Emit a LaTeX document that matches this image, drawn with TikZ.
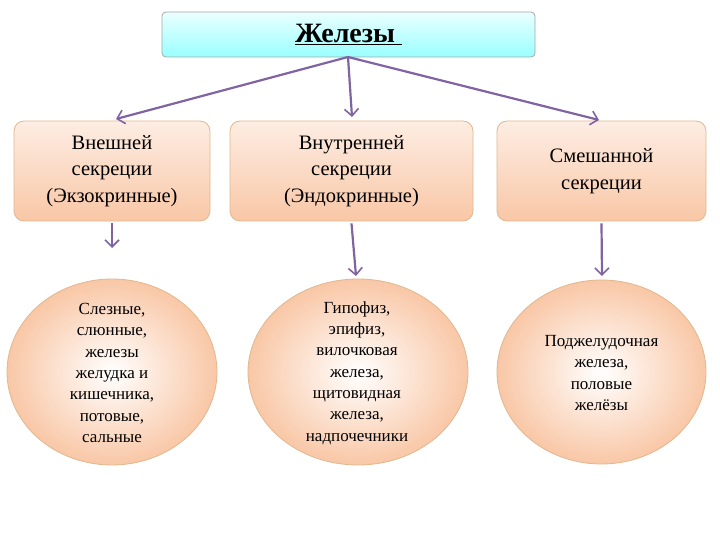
\documentclass[tikz,border=0pt]{standalone}
\usepackage{fontspec}
\setmainfont{Liberation Serif}
\usetikzlibrary{shapes.geometric,arrows.meta}
\definecolor{arr}{HTML}{8064A2}
\definecolor{peach}{HTML}{F9C7A6}
\definecolor{peachl}{HTML}{FDEDE3}
\definecolor{tan}{HTML}{E0B88E}
\tikzset{x=1pt,y=-1pt,
 kbox/.style={draw=tan,line width=0.8pt,rounded corners=10pt,top color=peachl,bottom color=peach,align=center,font=\fontsize{20.5}{26.5}\selectfont,inner sep=0pt},
 kell/.style={draw=tan,line width=0.8pt,ellipse,inner color=white,outer color=peach,inner sep=0pt},
 etext/.style={align=center,font=\fontsize{17}{21.3}\selectfont,inner sep=0pt},
 arw/.style={draw=arr,line width=2.2pt,-{Straight Barb[length=7pt,width=14pt,line width=1.6pt]}}}
\begin{document}
\begin{tikzpicture}
\useasboundingbox (0,0) rectangle (720,540);
\node[draw=gray!70,line width=0.8pt,rounded corners=4pt,top color=cyan!8,bottom color=cyan!40,minimum width=373pt,minimum height=45pt] (t) at (348.5,34.5) {\fontsize{28}{32}\selectfont\bfseries\underline{Железы\ }};
\node[kbox,minimum width=196pt,minimum height=100pt] (a) at (112,171) {Внешней\\секреции\\(Экзокринные)};
\node[kbox,minimum width=243pt,minimum height=100pt] (b) at (351.5,171) {Внутренней\\секреции\\(Эндокринные)};
\node[kbox,minimum width=209pt,minimum height=100pt] (c) at (601.5,171) {Смешанной\\секреции};
\node[kell,minimum width=210pt,minimum height=186pt] (e1) at (112,372) {};
\node[kell,minimum width=220pt,minimum height=186pt] (e2) at (358,372) {};
\node[kell,minimum width=209pt,minimum height=184pt] (e3) at (601.5,372) {};
\node[etext] (t1) at (112,373) {Слезные,\\слюнные,\\железы\\желудка и\\кишечника,\\потовые,\\сальные};
\node[etext] (t2) at (357,373) {Гипофиз,\\эпифиз,\\вилочковая\\железа,\\щитовидная\\железа,\\надпочечники};
\node[etext] (t3) at (601.5,373) {Поджелудочная\\железа,\\половые\\желёзы};
\coordinate (o) at (348,57);
\coordinate (a1) at (116,119);
\coordinate (b1) at (352,117);
\coordinate (c1) at (599,120);
\draw[arw] (o) -- (a1);
\draw[arw] (o) -- (b1);
\draw[arw] (o) -- (c1);
\coordinate (a2) at (112,248);
\coordinate (b2) at (356,276);
\coordinate (c2) at (602,276);
\draw[arw] (a.south) ++(0,2) -- (a2);
\draw[arw] (b.south) ++(0,2) -- (b2);
\draw[arw] (c.south) ++(0,2) -- (c2);
\end{tikzpicture}
\end{document}
